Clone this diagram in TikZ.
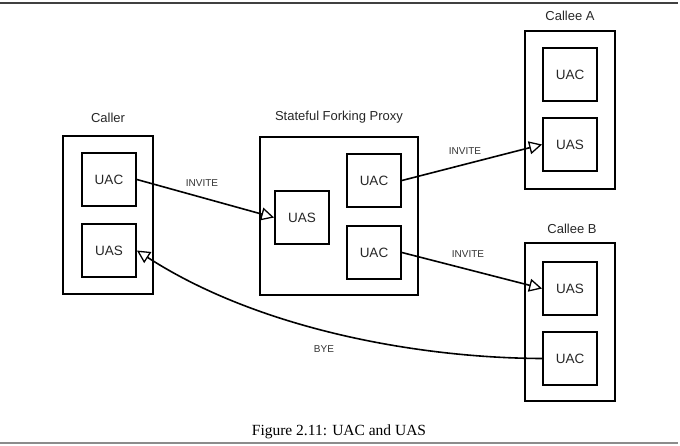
\documentclass[tikz,border=0pt]{standalone}
\usepackage{fontspec}
\setmainfont{Liberation Serif}
\newfontfamily\diagfont{Liberation Sans}
\usetikzlibrary{arrows.meta}
\begin{document}
\begin{tikzpicture}[x=1pt,y=-1pt,
  outerbox/.style={draw,line width=1.8pt,minimum width=#1,minimum height=158pt,inner sep=0pt},
  inbox/.style={draw,line width=1.8pt,minimum width=54pt,minimum height=53pt,inner sep=0pt,font=\diagfont\fontsize{13.5}{15}\selectfont,text=black!85},
  title/.style={font=\diagfont\fontsize{13}{15}\selectfont,text=black!85},
  msg/.style={font=\diagfont\fontsize{10}{11}\selectfont,text=black!80},
  conn/.style={line width=1.6pt,-{Triangle[length=13pt,width=13pt,fill=white,line width=1.3pt]}},
  rule/.style={line width=1.4pt}]
\useasboundingbox (0,0) rectangle (680,445);
\draw[rule,black!75] (0,3) -- (678,3);
\draw[rule,black!45] (0,443) -- (678,443);
% Caller
\node[outerbox=90pt] (caller) at (108,215) {};
\node[title] (callerlbl) at (108,118) {Caller};
\node[inbox] (cuac) at (109,179.5) {UAC};
\node[inbox] (cuas) at (109,250.5) {UAS};
% Proxy
\node[outerbox=158pt] (proxy) at (339,216) {};
\node[title] (proxylbl) at (339,117) {Stateful Forking Proxy};
\node[inbox] (puas) at (302,217.5) {UAS};
\node[inbox] (puac1) at (374,180.5) {UAC};
\node[inbox] (puac2) at (374,252.5) {UAC};
% Callee A
\node[outerbox=90pt] (calleea) at (570,110) {};
\node[title] (calleealbl) at (570,16) {Callee A};
\node[inbox] (auac) at (570,74.5) {UAC};
\node[inbox] (auas) at (570,144.5) {UAS};
% Callee B
\node[outerbox=90pt] (calleeb) at (570,322) {};
\node[title] (calleeblbl) at (572,229) {Callee B};
\node[inbox] (buas) at (570,288.5) {UAS};
\node[inbox] (buac) at (570,358.5) {UAC};
% connectors
\draw[conn] (cuac.east) -- (puas.west);
\draw[conn] (puac1.east) -- (auas.west);
\draw[conn] (puac2.east) -- (buas.west);
\draw[conn] (buac.west) .. controls (420,358) and (260,330) .. (cuas.east);
\node[msg] (m1) at (202,183) {INVITE};
\node[msg] (m2) at (465,151) {INVITE};
\node[msg] (m3) at (468,254) {INVITE};
\node[msg] (m4) at (324,349) {BYE};
% caption
\node[font=\fontsize{15.5}{18}\selectfont,anchor=base] (cap) at (339,435) {Figure 2.11: UAC and UAS};
\end{tikzpicture}
\end{document}
